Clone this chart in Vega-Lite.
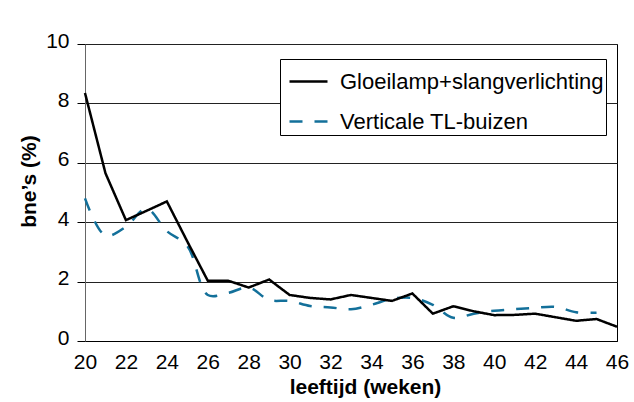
{
  "$schema": "https://vega.github.io/schema/vega-lite/v6.json",
  "width": 532,
  "height": 297,
  "autosize": {"type": "none"},
  "padding": {"left": 85, "top": 44, "right": 17, "bottom": 61},
  "background": "white",
  "config": {
    "font": "Liberation Sans",
    "view": {"stroke": "black", "strokeWidth": 1},
    "axis": {
      "labelFont": "Liberation Sans",
      "labelFontSize": 21,
      "labelColor": "black",
      "titleFont": "Liberation Sans",
      "titleFontSize": 21,
      "titleFontWeight": "bold",
      "titleColor": "black"
    },
    "legend": {
      "labelFont": "Liberation Sans",
      "labelFontSize": 22,
      "labelColor": "black",
      "labelLimit": 400
    }
  },
  "data": {
    "values": [
      {"week": 20, "serie": "Gloeilamp+slangverlichting", "bne": 8.35},
      {"week": 21, "serie": "Gloeilamp+slangverlichting", "bne": 5.65},
      {"week": 22, "serie": "Gloeilamp+slangverlichting", "bne": 4.07},
      {"week": 23, "serie": "Gloeilamp+slangverlichting", "bne": 4.38},
      {"week": 24, "serie": "Gloeilamp+slangverlichting", "bne": 4.7},
      {"week": 25, "serie": "Gloeilamp+slangverlichting", "bne": 3.35},
      {"week": 26, "serie": "Gloeilamp+slangverlichting", "bne": 2.03},
      {"week": 27, "serie": "Gloeilamp+slangverlichting", "bne": 2.03},
      {"week": 28, "serie": "Gloeilamp+slangverlichting", "bne": 1.8},
      {"week": 29, "serie": "Gloeilamp+slangverlichting", "bne": 2.07},
      {"week": 30, "serie": "Gloeilamp+slangverlichting", "bne": 1.55},
      {"week": 31, "serie": "Gloeilamp+slangverlichting", "bne": 1.45},
      {"week": 32, "serie": "Gloeilamp+slangverlichting", "bne": 1.4},
      {"week": 33, "serie": "Gloeilamp+slangverlichting", "bne": 1.55},
      {"week": 34, "serie": "Gloeilamp+slangverlichting", "bne": 1.45},
      {"week": 35, "serie": "Gloeilamp+slangverlichting", "bne": 1.35},
      {"week": 36, "serie": "Gloeilamp+slangverlichting", "bne": 1.6},
      {"week": 37, "serie": "Gloeilamp+slangverlichting", "bne": 0.92},
      {"week": 38, "serie": "Gloeilamp+slangverlichting", "bne": 1.17},
      {"week": 39, "serie": "Gloeilamp+slangverlichting", "bne": 1.0},
      {"week": 40, "serie": "Gloeilamp+slangverlichting", "bne": 0.87},
      {"week": 41, "serie": "Gloeilamp+slangverlichting", "bne": 0.88},
      {"week": 42, "serie": "Gloeilamp+slangverlichting", "bne": 0.92},
      {"week": 43, "serie": "Gloeilamp+slangverlichting", "bne": 0.8},
      {"week": 44, "serie": "Gloeilamp+slangverlichting", "bne": 0.68},
      {"week": 45, "serie": "Gloeilamp+slangverlichting", "bne": 0.74},
      {"week": 46, "serie": "Gloeilamp+slangverlichting", "bne": 0.48},
      {"week": 20, "serie": "Verticale TL-buizen", "bne": 4.8},
      {"week": 21, "serie": "Verticale TL-buizen", "bne": 3.55},
      {"week": 22, "serie": "Verticale TL-buizen", "bne": 3.85},
      {"week": 23, "serie": "Verticale TL-buizen", "bne": 4.45},
      {"week": 24, "serie": "Verticale TL-buizen", "bne": 3.7},
      {"week": 25, "serie": "Verticale TL-buizen", "bne": 3.2},
      {"week": 26, "serie": "Verticale TL-buizen", "bne": 1.55},
      {"week": 27, "serie": "Verticale TL-buizen", "bne": 1.62},
      {"week": 28, "serie": "Verticale TL-buizen", "bne": 1.8},
      {"week": 29, "serie": "Verticale TL-buizen", "bne": 1.38},
      {"week": 30, "serie": "Verticale TL-buizen", "bne": 1.35},
      {"week": 31, "serie": "Verticale TL-buizen", "bne": 1.18},
      {"week": 32, "serie": "Verticale TL-buizen", "bne": 1.13},
      {"week": 33, "serie": "Verticale TL-buizen", "bne": 1.07},
      {"week": 34, "serie": "Verticale TL-buizen", "bne": 1.22},
      {"week": 35, "serie": "Verticale TL-buizen", "bne": 1.42},
      {"week": 36, "serie": "Verticale TL-buizen", "bne": 1.45},
      {"week": 37, "serie": "Verticale TL-buizen", "bne": 1.22},
      {"week": 38, "serie": "Verticale TL-buizen", "bne": 0.78},
      {"week": 39, "serie": "Verticale TL-buizen", "bne": 0.92},
      {"week": 40, "serie": "Verticale TL-buizen", "bne": 1.02},
      {"week": 41, "serie": "Verticale TL-buizen", "bne": 1.07},
      {"week": 42, "serie": "Verticale TL-buizen", "bne": 1.12},
      {"week": 43, "serie": "Verticale TL-buizen", "bne": 1.15},
      {"week": 44, "serie": "Verticale TL-buizen", "bne": 0.97},
      {"week": 45, "serie": "Verticale TL-buizen", "bne": 0.95}
    ]
  },
  "encoding": {
    "x": {
      "field": "week",
      "type": "quantitative",
      "scale": {"domain": [20, 46], "nice": false, "zero": false},
      "axis": {
        "title": "leeftijd (weken)",
        "values": [20, 22, 24, 26, 28, 30, 32, 34, 36, 38, 40, 42, 44, 46],
        "ticks": false,
        "grid": false,
        "domainColor": "black",
        "labelPadding": 10,
        "titlePadding": 4,
        "titleX": 280,
        "labelFlush": false
      }
    },
    "y": {
      "field": "bne",
      "type": "quantitative",
      "scale": {"domain": [0, 10], "nice": false},
      "axis": {
        "title": "bne’s (%)",
        "values": [0, 2, 4, 6, 8, 10],
        "tickSize": 8,
        "tickColor": "black",
        "domainColor": "#666",
        "gridColor": "#222",
        "gridOpacity": 1,
        "labelPadding": 8,
        "labelOffset": -3,
        "titlePadding": 6,
        "titleY": 137,
        "labelFlush": false
      }
    },
    "color": {
      "field": "serie",
      "type": "nominal",
      "scale": {
        "domain": ["Gloeilamp+slangverlichting", "Verticale TL-buizen"],
        "range": ["black", "#13709A"]
      },
      "legend": {
        "title": null,
        "orient": "none",
        "legendX": 195,
        "legendY": 15,
        "symbolType": "stroke",
        "symbolSize": 1444,
        "symbolStrokeWidth": 2.5,
        "symbolOffset": 6,
        "strokeColor": "black",
        "fillColor": "white",
        "padding": 2,
        "rowPadding": 8,
        "labelOffset": 11
      }
    },
    "strokeDash": {
      "field": "serie",
      "type": "nominal",
      "scale": {
        "domain": ["Gloeilamp+slangverlichting", "Verticale TL-buizen"],
        "range": [[1, 0], [13, 12]]
      },
      "legend": null
    }
  },
  "layer": [
    {
      "transform": [{"filter": "datum.serie === 'Verticale TL-buizen'"}],
      "mark": {"type": "line", "strokeWidth": 2.5, "interpolate": "catmull-rom"}
    },
    {
      "transform": [{"filter": "datum.serie === 'Gloeilamp+slangverlichting'"}],
      "mark": {"type": "line", "strokeWidth": 2.5, "interpolate": "linear"}
    }
  ]
}
